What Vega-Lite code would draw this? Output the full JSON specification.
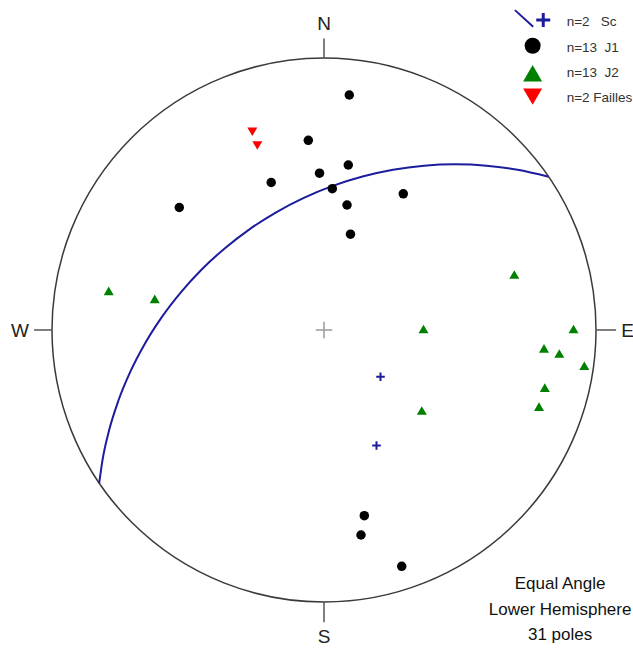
{
  "$schema": "https://vega.github.io/schema/vega-lite/v6.json",
  "width": 633,
  "height": 648,
  "autosize": {"type": "none"},
  "padding": 0,
  "background": "white",
  "config": {"view": {"stroke": null}},
  "datasets": {
    "center": [{"x": 0, "y": 0}],
    "ticks": [
      {"x": 0, "y": 1, "x2": 0, "y2": 1.072},
      {"x": 0, "y": -1, "x2": 0, "y2": -1.074},
      {"x": -1, "y": 0, "x2": -1.066, "y2": 0},
      {"x": 1, "y": 0, "x2": 1.074, "y2": 0}
    ],
    "greatcircle": [
      {"i": 0, "x": 0.8256, "y": 0.5637},
      {"i": 1, "x": 0.7112, "y": 0.5891},
      {"i": 2, "x": 0.5973, "y": 0.6041},
      {"i": 3, "x": 0.4825, "y": 0.6091},
      {"i": 4, "x": 0.3677, "y": 0.6041},
      {"i": 5, "x": 0.2538, "y": 0.5891},
      {"i": 6, "x": 0.1417, "y": 0.5642},
      {"i": 7, "x": 0.0321, "y": 0.5297},
      {"i": 8, "x": -0.0741, "y": 0.4857},
      {"i": 9, "x": -0.176, "y": 0.4327},
      {"i": 10, "x": -0.2729, "y": 0.371},
      {"i": 11, "x": -0.3641, "y": 0.3009},
      {"i": 12, "x": -0.4488, "y": 0.2234},
      {"i": 13, "x": -0.5263, "y": 0.1387},
      {"i": 14, "x": -0.5964, "y": 0.0475},
      {"i": 15, "x": -0.6581, "y": -0.0494},
      {"i": 16, "x": -0.7111, "y": -0.1513},
      {"i": 17, "x": -0.7551, "y": -0.2575},
      {"i": 18, "x": -0.7896, "y": -0.3671},
      {"i": 19, "x": -0.8145, "y": -0.4792},
      {"i": 20, "x": -0.8266, "y": -0.5634}
    ],
    "j1": [
      {"x": 0.093, "y": 0.864},
      {"x": -0.0577, "y": 0.6974},
      {"x": 0.0893, "y": 0.6066},
      {"x": -0.0165, "y": 0.5765},
      {"x": -0.1941, "y": 0.5423},
      {"x": 0.0305, "y": 0.5195},
      {"x": 0.2915, "y": 0.5007},
      {"x": -0.532, "y": 0.4504},
      {"x": 0.0846, "y": 0.4596},
      {"x": 0.0974, "y": 0.3522},
      {"x": 0.1482, "y": -0.6827},
      {"x": 0.136, "y": -0.7537},
      {"x": 0.2857, "y": -0.8688}
    ],
    "j2": [
      {"x": -0.7915, "y": 0.1441},
      {"x": -0.6224, "y": 0.1147},
      {"x": 0.6996, "y": 0.204},
      {"x": 0.3658, "y": 0.0037},
      {"x": 0.9173, "y": 0.0037},
      {"x": 0.8088, "y": -0.0673},
      {"x": 0.8651, "y": -0.0864},
      {"x": 0.957, "y": -0.1313},
      {"x": 0.8118, "y": -0.2121},
      {"x": 0.7904, "y": -0.282},
      {"x": 0.3596, "y": -0.296}
    ],
    "failles": [
      {"x": -0.2636, "y": 0.7287},
      {"x": -0.2452, "y": 0.6783}
    ],
    "sc": [
      {"x": 0.2077, "y": -0.1721},
      {"x": 0.193, "y": -0.4246}
    ],
    "compass": [
      {"x": 0, "y": 1.103, "t": "N"},
      {"x": 0, "y": -1.151, "t": "S"},
      {"x": -1.118, "y": -0.026, "t": "W"},
      {"x": 1.116, "y": -0.026, "t": "E"}
    ],
    "legline": [{"x": 0.702, "y": 1.176, "x2": 0.769, "y2": 1.115}],
    "legcross": [{"x": 0.806, "y": 1.14}],
    "legdot": [{"x": 0.767, "y": 1.045}],
    "legup": [{"x": 0.767, "y": 0.944}],
    "legdown": [{"x": 0.767, "y": 0.858}],
    "legtext": [
      {"x": 0.892, "y": 1.1188, "t": "n=2\u00a0\u00a0\u00a0Sc"},
      {"x": 0.892, "y": 1.0232, "t": "n=13\u00a0\u00a0J1"},
      {"x": 0.892, "y": 0.929, "t": "n=13\u00a0\u00a0J2"},
      {"x": 0.892, "y": 0.8393, "t": "n=2 Failles"}
    ],
    "note": [
      {"x": 0.868, "y": -0.9522, "t": "Equal Angle"},
      {"x": 0.868, "y": -1.0478, "t": "Lower Hemisphere"},
      {"x": 0.868, "y": -1.1397, "t": "31 poles"}
    ]
  },
  "encoding": {
    "x": {"field": "x", "type": "quantitative", "axis": null,
          "scale": {"domain": [-1.1912, 1.136], "nice": false, "zero": false}},
    "y": {"field": "y", "type": "quantitative", "axis": null,
          "scale": {"domain": [-1.1691, 1.2132], "nice": false, "zero": false}}
  },
  "layer": [
    {
      "data": {"name": "center"},
      "mark": {"type": "point", "shape": "circle", "size": 295936, "filled": false,
               "stroke": "#3a3a3a", "strokeWidth": 1.5, "opacity": 1}
    },
    {
      "data": {"name": "ticks"},
      "mark": {"type": "rule", "stroke": "#555555", "strokeWidth": 1.5},
      "encoding": {"x2": {"field": "x2"}, "y2": {"field": "y2"}}
    },
    {
      "data": {"name": "center"},
      "mark": {"type": "point", "shape": "M-1,0H1M0,-1V1", "size": 276, "filled": false,
               "stroke": "#9a9a9a", "strokeWidth": 1.5, "opacity": 1}
    },
    {
      "data": {"name": "greatcircle"},
      "mark": {"type": "line", "stroke": "#1c1c9c", "strokeWidth": 2, "interpolate": "monotone"},
      "encoding": {"order": {"field": "i", "type": "quantitative"}}
    },
    {
      "data": {"name": "j1"},
      "mark": {"type": "point", "shape": "circle", "size": 90, "filled": true,
               "fill": "#000000", "strokeWidth": 0, "opacity": 1}
    },
    {
      "data": {"name": "j2"},
      "mark": {"type": "point", "shape": "triangle-up", "size": 100, "filled": true,
               "fill": "#008000", "strokeWidth": 0, "opacity": 1}
    },
    {
      "data": {"name": "failles"},
      "mark": {"type": "point", "shape": "triangle-down", "size": 100, "filled": true,
               "fill": "#ff0000", "strokeWidth": 0, "opacity": 1}
    },
    {
      "data": {"name": "sc"},
      "mark": {"type": "point", "shape": "M-1,0H1M0,-1V1", "size": 74, "filled": false,
               "stroke": "#1c1c9c", "strokeWidth": 2, "opacity": 1}
    },
    {
      "data": {"name": "compass"},
      "mark": {"type": "text", "align": "center", "baseline": "alphabetic", "fontSize": 19,
               "font": "Liberation Sans, Arial, sans-serif", "fill": "#222222"},
      "encoding": {"text": {"field": "t"}}
    },
    {
      "data": {"name": "legline"},
      "mark": {"type": "rule", "stroke": "#1c1c9c", "strokeWidth": 2},
      "encoding": {"x2": {"field": "x2"}, "y2": {"field": "y2"}}
    },
    {
      "data": {"name": "legcross"},
      "mark": {"type": "point", "shape": "M-1,0H1M0,-1V1", "size": 196, "filled": false,
               "stroke": "#1c1c9c", "strokeWidth": 3, "opacity": 1}
    },
    {
      "data": {"name": "legdot"},
      "mark": {"type": "point", "shape": "circle", "size": 256, "filled": true,
               "fill": "#000000", "strokeWidth": 0, "opacity": 1}
    },
    {
      "data": {"name": "legup"},
      "mark": {"type": "point", "shape": "triangle-up", "size": 361, "filled": true,
               "fill": "#008000", "strokeWidth": 0, "opacity": 1}
    },
    {
      "data": {"name": "legdown"},
      "mark": {"type": "point", "shape": "triangle-down", "size": 361, "filled": true,
               "fill": "#ff0000", "strokeWidth": 0, "opacity": 1}
    },
    {
      "data": {"name": "legtext"},
      "mark": {"type": "text", "align": "left", "baseline": "alphabetic", "fontSize": 13.5,
               "font": "Liberation Sans, Arial, sans-serif", "fill": "#333333"},
      "encoding": {"text": {"field": "t"}}
    },
    {
      "data": {"name": "note"},
      "mark": {"type": "text", "align": "center", "baseline": "alphabetic", "fontSize": 17,
               "font": "Liberation Sans, Arial, sans-serif", "fill": "#111111"},
      "encoding": {"text": {"field": "t"}}
    }
  ]
}
